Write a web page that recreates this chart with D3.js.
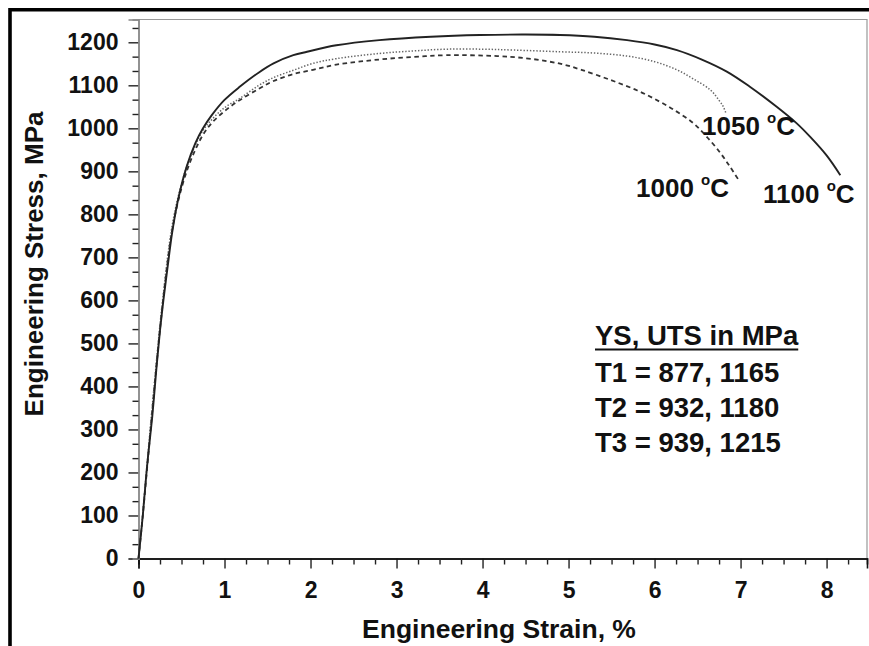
<html>
<head>
<meta http-equiv="content-type" content="text/html; charset=UTF8">
<title>Engineering Stress-Strain</title>
<style type="text/css">
body { margin: 0; padding: 0; background: #fff; overflow: hidden; }
svg text { font-family: "Liberation Sans", Arial, sans-serif; font-weight: bold; fill: #111; }
</style>
</head>
<body>
<div id="chart"></div>
<script src="https://cdnjs.cloudflare.com/ajax/libs/d3/7.8.5/d3.min.js"></script>
<script type="text/javascript">

// strain (%) / stress (MPa)
var strain1100 = [0, 0.05, 0.1, 0.16, 0.21, 0.25, 0.29, 0.34, 0.39, 0.46, 0.56, 0.66, 0.75, 0.85, 1.0, 1.18, 1.4, 1.57, 1.8, 1.96, 2.3, 2.8, 3.4, 3.97, 4.5, 4.9, 5.3, 5.68, 6.0, 6.26, 6.55, 6.84, 7.1, 7.42, 7.65, 7.81, 8.0, 8.16];
var stress1100 = [0, 100, 215, 330, 446, 530, 601, 680, 756, 834, 911, 965, 1000, 1030, 1066, 1097, 1130, 1151, 1170, 1178, 1193, 1205, 1213, 1217, 1218, 1217, 1213, 1205, 1195, 1182, 1160, 1132, 1098, 1050, 1012, 980, 937, 891];

var strain1050 = [0, 0.05, 0.1, 0.2, 0.28, 0.38, 0.46, 0.56, 0.66, 0.75, 0.85, 1.0, 1.18, 1.4, 1.57, 1.8, 2.03, 2.3, 2.8, 3.2, 3.58, 4.0, 4.36, 4.9, 5.3, 5.68, 6.0, 6.26, 6.45, 6.65, 6.75, 6.8, 6.83];
var stress1050 = [0, 105, 220, 440, 600, 760, 840, 910, 960, 995, 1020, 1048, 1070, 1100, 1118, 1135, 1151, 1162, 1174, 1180, 1184, 1184, 1182, 1178, 1175, 1168, 1155, 1136, 1115, 1089, 1065, 1050, 1035];

var strain1000 = [0, 0.05, 0.1, 0.2, 0.28, 0.38, 0.46, 0.56, 0.66, 0.75, 0.85, 1.0, 1.18, 1.4, 1.57, 1.8, 2.03, 2.3, 2.8, 3.2, 3.58, 4.17, 4.5, 4.75, 4.95, 5.15, 5.48, 5.8, 6.06, 6.25, 6.45, 6.6, 6.76, 6.88, 6.99];
var stress1000 = [0, 100, 210, 430, 590, 750, 830, 900, 950, 985, 1012, 1040, 1066, 1092, 1110, 1126, 1136, 1148, 1160, 1166, 1170, 1168, 1163, 1156, 1148, 1136, 1113, 1088, 1062, 1040, 1012, 982, 944, 910, 876];

var xTicks = [0, 1, 2, 3, 4, 5, 6, 7, 8];
var yTicks = [0, 100, 200, 300, 400, 500, 600, 700, 800, 900, 1000, 1100, 1200];

var summaryTitle = "YS, UTS in MPa";
var summaryLines = ["T1 = 877, 1165", "T2 = 932, 1180", "T3 = 939, 1215"];

(function(){
    var width = 869, height = 646;
    var left = 138.5, right = 867, top = 19.5, bottom = 558.5;

    var svg = d3.select("#chart").append("svg")
        .attr("width", width)
        .attr("height", height);

    var x = d3.scaleLinear().domain([0, 8.47]).range([left, right]);
    var y = d3.scaleLinear().domain([0, 1253]).range([bottom, top]);

    // outer frame (left and top only, the picture is cropped)
    svg.append("path")
        .attr("d", "M10,646 L10,9.8 L869,9.8")
        .attr("fill", "none")
        .attr("stroke", "#000")
        .attr("stroke-width", 3.6);

    // plot box, top and right
    svg.append("path")
        .attr("d", "M" + left + "," + top + " L" + right + "," + top + " L" + right + "," + bottom)
        .attr("fill", "none")
        .attr("stroke", "#999")
        .attr("stroke-width", 1.2);

    /*
    * axes
    */
    var xMinor = d3.range(0, 8.47, 0.25).filter(function(v){ return v % 1 !== 0; });
    var yMinor = d3.range(0, 1253, 100 / 3).filter(function(v, i){ return i % 3 !== 0; });

    var gx = svg.append("g").attr("transform", "translate(0," + bottom + ")");
    gx.call(d3.axisBottom(x).tickValues(xTicks).tickSize(10).tickPadding(13).tickFormat(d3.format("d")));
    gx.append("g").call(d3.axisBottom(x).tickValues(xMinor).tickSize(6).tickFormat(""));
    gx.selectAll(".domain").attr("stroke", "#111").attr("stroke-width", 1.6);

    var gy = svg.append("g").attr("transform", "translate(" + left + ",0)");
    gy.call(d3.axisLeft(y).tickValues(yTicks).tickSize(10).tickPadding(10).tickFormat(d3.format("d")));
    gy.append("g").call(d3.axisLeft(y).tickValues(yMinor).tickSize(6).tickFormat(""));
    gy.selectAll(".domain").attr("stroke", "#888").attr("stroke-width", 1.4);

    svg.selectAll(".tick line").attr("stroke", "#222").attr("stroke-width", 1.4);
    svg.selectAll(".tick text")
        .attr("fill", "#111")
        .style("font-size", "23px")
        .style("font-family", "'Liberation Sans', Arial, sans-serif")
        .style("font-weight", "bold");

    svg.append("text")
        .attr("x", 499)
        .attr("y", 638)
        .attr("text-anchor", "middle")
        .style("font-size", "26.5px")
        .text("Engineering Strain, %");

    svg.append("text")
        .attr("transform", "translate(43,264) rotate(-90)")
        .attr("text-anchor", "middle")
        .style("font-size", "26px")
        .text("Engineering Stress, MPa");

    /*
    * curves
    */
    var line = d3.line()
        .x(function(d){ return x(d[0]); })
        .y(function(d){ return y(d[1]); })
        .curve(d3.curveCatmullRom.alpha(0.5));

    var series = [
        { s: strain1000, v: stress1000, dash: "4.5,3.5", w: 1.8, color: "#333" },
        { s: strain1050, v: stress1050, dash: "1.4,1.8", w: 1.5, color: "#666" },
        { s: strain1100, v: stress1100, dash: null, w: 1.9, color: "#222" }
    ];

    series.forEach(function(c){
        svg.append("path")
            .datum(d3.zip(c.s, c.v))
            .attr("d", line)
            .attr("fill", "none")
            .attr("stroke", c.color)
            .attr("stroke-width", c.w)
            .attr("stroke-dasharray", c.dash);
    });

    // temperature labels
    function tempLabel(px, py, t){
        var txt = svg.append("text")
            .attr("x", px)
            .attr("y", py)
            .style("font-size", "26px");
        txt.append("tspan").text(t + " ");
        txt.append("tspan").attr("dy", -12).style("font-size", "15px").text("o");
        txt.append("tspan").attr("dy", 12).text("C");
    }
    tempLabel(702, 135, "1050");
    tempLabel(636, 197, "1000");
    tempLabel(763, 203, "1100");

    /*
    * summary box
    */
    var sum = svg.append("g");
    var head = sum.append("text")
        .attr("x", 595)
        .attr("y", 345)
        .style("font-size", "27.5px")
        .text(summaryTitle);
    var hw = head.node().getComputedTextLength();
    sum.append("line")
        .attr("x1", 595).attr("x2", 595 + hw)
        .attr("y1", 349.5).attr("y2", 349.5)
        .attr("stroke", "#111")
        .attr("stroke-width", 2);

    sum.selectAll(".row")
        .data(summaryLines)
        .enter().append("text")
        .attr("class", "row")
        .attr("x", 595)
        .attr("y", function(d, i){ return 382 + i * 35; })
        .style("font-size", "27.5px")
        .text(function(d){ return d; });
})();

</script>
</body>
</html>
